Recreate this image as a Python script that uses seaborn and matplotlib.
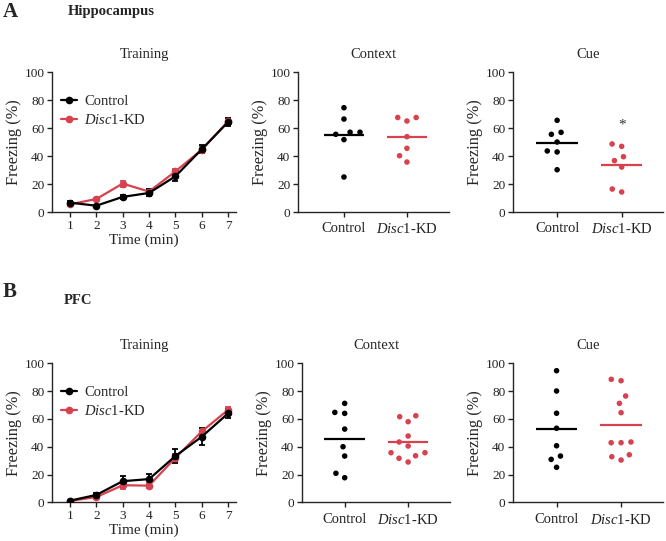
import numpy as np
import pandas as pd
import matplotlib
matplotlib.use("Agg")
import matplotlib.pyplot as plt
import seaborn as sns

# ---- data ----
time_min = [1, 2, 3, 4, 5, 6, 7]

hip_ctrl_mean = [6.7, 4.5, 10.8, 13.6, 25.5, 44.8, 64.3]
hip_ctrl_sem = [1.0, 0.8, 1.2, 2.5, 3.0, 2.8, 3.0]
hip_kd_mean = [5.5, 9.3, 20.3, 14.6, 29.0, 44.5, 64.8]
hip_kd_sem = [1.0, 1.0, 2.2, 1.5, 2.0, 2.5, 2.5]

pfc_ctrl_mean = [1.2, 5.3, 15.2, 16.7, 33.3, 47.2, 64.0]
pfc_ctrl_sem = [0.6, 1.5, 4.0, 4.0, 5.0, 6.0, 3.5]
pfc_kd_mean = [1.0, 3.8, 12.3, 12.0, 32.0, 51.0, 66.5]
pfc_kd_sem = [0.5, 1.2, 2.5, 2.0, 3.0, 2.5, 2.0]

hip_context_ctrl = [74.5, 66.4, 57.0, 57.0, 55.5, 51.7, 25.0]
hip_context_kd = [67.5, 65.0, 67.5, 53.8, 45.5, 40.2, 35.7]
hip_cue_ctrl = [65.5, 55.5, 56.9, 50.0, 43.6, 42.9, 30.2]
hip_cue_kd = [48.6, 46.9, 39.5, 36.7, 32.1, 16.4, 14.3]

pfc_context_ctrl = [71.2, 64.7, 64.0, 52.7, 40.0, 33.3, 20.9, 17.7]
pfc_context_kd = [61.6, 62.3, 58.0, 47.7, 43.4, 40.5, 35.7, 35.7, 33.5, 31.7, 29.0]
pfc_cue_ctrl = [94.7, 80.1, 64.1, 53.3, 40.7, 33.3, 30.9, 25.2]
pfc_cue_kd = [87.5, 88.5, 76.5, 71.2, 64.5, 42.9, 43.4, 42.9, 30.4, 34.2, 32.8]

groups = ["Control", "Disc1-KD"]
group_labels = ["Control", r"$\mathit{Disc1}$-KD"]
colors = {"Control": "black", "Disc1-KD": "#d7424e"}

sns.set_style("ticks")
plt.rcParams["font.family"] = ["Liberation Serif", "DejaVu Serif"]
plt.rcParams["mathtext.fontset"] = "custom"
plt.rcParams["mathtext.rm"] = "Liberation Serif"
plt.rcParams["mathtext.it"] = "Liberation Serif:italic"
plt.rcParams["axes.linewidth"] = 1.0
plt.rcParams["xtick.major.width"] = 1.0
plt.rcParams["ytick.major.width"] = 1.0
plt.rcParams["xtick.major.size"] = 3.5
plt.rcParams["ytick.major.size"] = 3.5

fig = plt.figure(figsize=(6.66, 5.41), dpi=100)

TICK_FS = 9.5
LAB_FS = 10.5
YLAB_FS = 11.8


def style_axis(ax, title):
    ax.set_ylim(0, 100)
    ax.set_yticks([0, 20, 40, 60, 80, 100])
    ax.set_ylabel("Freezing (%)", fontsize=YLAB_FS, labelpad=2)
    ax.set_title(title, fontsize=LAB_FS, pad=10)
    ax.tick_params(labelsize=TICK_FS, pad=2, colors="#222222")
    sns.despine(ax=ax)


def training_panel(ax, ctrl_mean, ctrl_sem, kd_mean, kd_sem):
    df = pd.DataFrame({
        "time": time_min * 2,
        "freezing": ctrl_mean + kd_mean,
        "sem": ctrl_sem + kd_sem,
        "group": ["Control"] * 7 + ["Disc1-KD"] * 7,
    })
    # KD first so the control line sits on top
    for g in ["Disc1-KD", "Control"]:
        sub = df[df["group"] == g]
        ax.errorbar(sub["time"], sub["freezing"], yerr=sub["sem"], fmt="none",
                    ecolor=colors[g], elinewidth=1.3, capsize=2.2, capthick=1.3, zorder=3)
    sns.lineplot(data=df, x="time", y="freezing", hue="group", hue_order=["Disc1-KD", "Control"],
                 palette=colors, marker="o", markersize=5.5, markeredgewidth=0,
                 linewidth=1.6, ax=ax, zorder=4)
    ax.set_xlim(0.32, 7.3)
    ax.set_xticks(time_min)
    ax.set_xlabel("Time (min)", fontsize=LAB_FS + 0.5, labelpad=1)
    handles, labels = ax.get_legend_handles_labels()
    order = [labels.index("Control"), labels.index("Disc1-KD")]
    ax.legend([handles[i] for i in order], group_labels, loc="upper left",
              bbox_to_anchor=(0.0, 0.9), frameon=False, fontsize=LAB_FS,
              handlelength=1.1, handletextpad=0.5, labelspacing=0.35, borderaxespad=0.2)
    style_axis(ax, "Training")


def dot_panel(ax, ctrl, kd, title, xlim, star=None):
    df = pd.DataFrame({
        "group": ["Control"] * len(ctrl) + ["Disc1-KD"] * len(kd),
        "freezing": ctrl + kd,
    })
    # transparent edge widens the swarm spacing like the original
    sns.swarmplot(data=df, x="group", y="freezing", hue="group", order=groups,
                  palette=colors, size=4.0, linewidth=2.8, edgecolor=(1, 1, 1, 0),
                  legend=False, ax=ax, zorder=3)
    means = df.groupby("group")["freezing"].mean()
    for i, g in enumerate(groups):
        ax.hlines(means[g], i - 0.32, i + 0.32, color=colors[g], lw=1.6, zorder=4)
    ax.set_xlim(*xlim)
    ax.set_xticks([0, 1])
    ax.set_xticklabels(group_labels, fontsize=LAB_FS)
    ax.set_xlabel("")
    if star is not None:
        ax.text(1, star, "*", ha="center", va="center", fontsize=11, color="#333333")
    style_axis(ax, title)
    ax.tick_params(axis="x", labelsize=LAB_FS, pad=4)


# top row: hippocampus
ax1 = fig.add_axes([0.0781, 0.6081, 0.2763, 0.2588])
ax2 = fig.add_axes([0.4474, 0.6081, 0.2267, 0.2588])
ax3 = fig.add_axes([0.7703, 0.6081, 0.2252, 0.2588])
# bottom row: PFC
ax4 = fig.add_axes([0.0781, 0.0715, 0.2763, 0.2569])
ax5 = fig.add_axes([0.4535, 0.0715, 0.2222, 0.2569])
ax6 = fig.add_axes([0.7703, 0.0715, 0.2252, 0.2569])

training_panel(ax1, hip_ctrl_mean, hip_ctrl_sem, hip_kd_mean, hip_kd_sem)
dot_panel(ax2, hip_context_ctrl, hip_context_kd, "Context", (-0.73, 1.667))
dot_panel(ax3, hip_cue_ctrl, hip_cue_kd, "Cue", (-0.683, 1.64), star=62)

training_panel(ax4, pfc_ctrl_mean, pfc_ctrl_sem, pfc_kd_mean, pfc_kd_sem)
dot_panel(ax5, pfc_context_ctrl, pfc_context_kd, "Context", (-0.672, 1.66))
dot_panel(ax6, pfc_cue_ctrl, pfc_cue_kd, "Cue", (-0.675, 1.65))

fig.text(0.004, 0.977, "A", fontsize=15, fontweight="bold", va="center", ha="left")
fig.text(0.102, 0.978, "Hippocampus", fontsize=10.5, fontweight="bold", va="center", ha="left")
fig.text(0.004, 0.461, "B", fontsize=15, fontweight="bold", va="center", ha="left")
fig.text(0.095, 0.4445, "PFC", fontsize=10.5, fontweight="bold", va="center", ha="left")

fig.savefig("out.png", dpi=100)
